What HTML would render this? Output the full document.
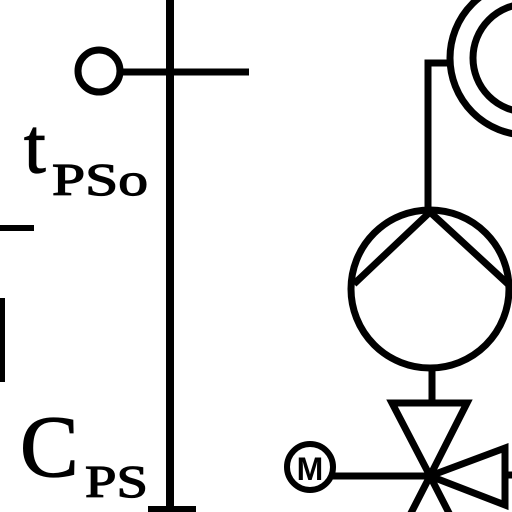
<!DOCTYPE html>
<html><head><meta charset="utf-8"><style>
html,body{margin:0;padding:0;background:#fff;width:512px;height:512px;overflow:hidden}
svg{display:block}
text{font-family:"Liberation Serif",serif;fill:#000;stroke:#000;stroke-width:1.2}
</style></head><body>
<svg width="512" height="512" viewBox="0 0 512 512">
<g stroke="#000" fill="none" stroke-linecap="butt">
<line x1="170" y1="0" x2="170" y2="510" stroke-width="8"/>
<line x1="148" y1="509" x2="196" y2="509" stroke-width="6"/>
<circle cx="99" cy="71" r="21" stroke-width="7"/>
<line x1="122" y1="72" x2="249" y2="72" stroke-width="7"/>
<line x1="0" y1="228" x2="34" y2="228" stroke-width="6"/>
<line x1="2" y1="298" x2="2" y2="382" stroke-width="6"/>
<circle cx="527" cy="58" r="77" stroke-width="7"/>
<circle cx="527" cy="58" r="54" stroke-width="7"/>
<polyline points="447,63 428,63 428,212" stroke-width="7"/>
<circle cx="430" cy="289" r="79" stroke-width="7"/>
<polyline points="354,284 430,212 508,284" stroke-width="7"/>
<line x1="432" y1="368" x2="432" y2="403" stroke-width="7"/>
<polygon points="392,403 467,403 430,476" stroke-width="7"/>
<polyline points="410,515 430,476 450,515" stroke-width="7"/>
<polygon points="430,476 505,448 505,505" stroke-width="7"/>
<line x1="505" y1="475" x2="512" y2="475" stroke-width="7"/>
<line x1="333" y1="476" x2="430" y2="476" stroke-width="7"/>
<circle cx="310" cy="467" r="23" stroke-width="6"/>
</g>
<text x="310" y="480" font-size="32" text-anchor="middle" style="font-family:'Liberation Sans',sans-serif;font-weight:bold;stroke-width:0">M</text>
<text x="24" y="172" font-size="78">t</text>
<text x="52" y="195" font-size="46" textLength="96" lengthAdjust="spacingAndGlyphs">PSo</text>
<text x="20" y="476" font-size="88">C</text>
<text x="85" y="497" font-size="46" textLength="63" lengthAdjust="spacingAndGlyphs">PS</text>
</svg>
</body></html>
